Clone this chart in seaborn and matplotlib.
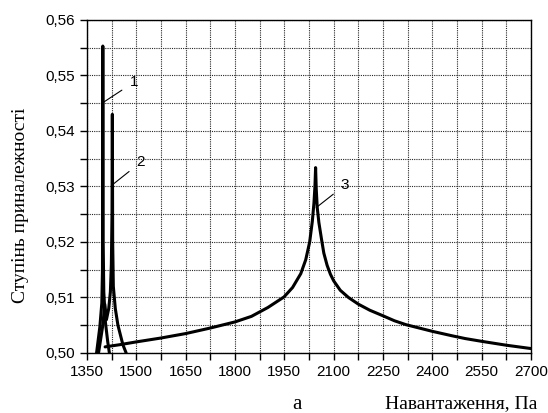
import seaborn as sns
import numpy as np
import pandas as pd
import matplotlib.pyplot as plt
from matplotlib.ticker import MultipleLocator

# curve 1 - narrow peak near 1398 Pa
x1 = [1379, 1389, 1395, 1397, 1398, 1399, 1401, 1406, 1413, 1418]
y1 = [0.5000, 0.5047, 0.5090, 0.5150, 0.5553, 0.5200, 0.5110, 0.5055, 0.5020, 0.5000]

# curve 2 - peak near 1427 Pa (with the small spike on its foot)
x2 = [1385, 1398, 1404, 1409, 1416, 1421, 1424, 1426, 1427, 1428, 1430, 1436, 1444, 1459, 1469]
y2 = [0.5000, 0.5050, 0.5088, 0.5060, 0.5080, 0.5110, 0.5160, 0.5250, 0.5430, 0.5200, 0.5120, 0.5080, 0.5050, 0.5015, 0.5000]

# curve 3 - wide peak near 2045 Pa
x3 = [1405, 1450, 1500, 1575, 1650, 1725, 1800, 1850, 1900, 1949, 1975, 2000, 2015, 2027, 2035, 2040, 2043, 2045,
      2047, 2050, 2055, 2063, 2070, 2080, 2090, 2100, 2120, 2145, 2175, 2210, 2250, 2285, 2320, 2360, 2400,
      2460, 2500, 2550, 2625, 2700]
y3 = [0.5011, 0.5015, 0.5020, 0.5027, 0.5035, 0.5045, 0.5056, 0.5066, 0.5082, 0.5101, 0.5118, 0.5143, 0.5168,
      0.5200, 0.5237, 0.5270, 0.5300, 0.5334,
      0.5295, 0.5262, 0.5235, 0.5205, 0.5180, 0.5158, 0.5142, 0.5130, 0.5113, 0.5100, 0.5088, 0.5077, 0.5067,
      0.5058, 0.5051, 0.5045, 0.5039, 0.5031, 0.5026, 0.5021, 0.5014, 0.5008]

curves = [(x1, y1), (x2, y2), (x3, y3)]
labels = ['1', '2', '3']
# label text position and leader end on the curve
label_xy = [(1493, 0.5488), (1514, 0.5344), (2135, 0.5303)]
point_xy = [(1398, 0.5451), (1427, 0.5303), (2047, 0.5262)]

sns.set_style('white')
plt.rcParams['font.family'] = ['Liberation Sans', 'DejaVu Sans']
plt.rcParams['text.color'] = 'black'
plt.rcParams['xtick.color'] = 'black'
plt.rcParams['ytick.color'] = 'black'

fig = plt.figure(figsize=(5.48, 4.13), dpi=100)
ax = fig.add_axes([0.1588, 0.1453, 0.8102, 0.8063])

for xs, ys in curves:
    df = pd.DataFrame({'x': xs, 'y': ys})
    sns.lineplot(data=df, x='x', y='y', sort=False, color='black', lw=2.2, ax=ax)

for lab, txy, pxy in zip(labels, label_xy, point_xy):
    ax.annotate(lab, xy=pxy, xytext=txy, fontsize=11, ha='center', va='center',
                arrowprops=dict(arrowstyle='-', color='black', lw=0.8, shrinkA=4, shrinkB=0))

ax.set_xlim(1350, 2700)
ax.set_ylim(0.50, 0.56)
ax.xaxis.set_major_locator(MultipleLocator(150))
ax.xaxis.set_minor_locator(MultipleLocator(75))
ax.yaxis.set_major_locator(MultipleLocator(0.01))
ax.yaxis.set_minor_locator(MultipleLocator(0.005))
ax.set_yticks(np.arange(0.50, 0.561, 0.01))
ax.set_yticklabels([f'{v:.2f}'.replace('.', ',') for v in np.arange(0.50, 0.561, 0.01)])
ax.grid(True, which='both', color='0.15', linestyle=(0, (1, 1)), linewidth=0.8)
ax.tick_params(which='both', direction='out', length=5, width=1, color='black',
               labelsize=11, bottom=True, left=True)
for s in ax.spines.values():
    s.set_color('black')
    s.set_linewidth(1)
ax.set_xlabel('')
ax.set_ylabel('')

fig.text(21 / 548, 1 - 205 / 413, 'Ступінь приналежності', rotation=90, ha='center', va='center',
         fontsize=14, family='Liberation Serif')
fig.text(537 / 548, 1 - 408 / 413, 'Навантаження, Па', ha='right', va='baseline',
         fontsize=14, family='Liberation Serif')
fig.text(297 / 548, 1 - 409 / 413, 'а', ha='center', va='baseline',
         fontsize=15, family='Liberation Serif')

fig.savefig('out.png', dpi=100)
